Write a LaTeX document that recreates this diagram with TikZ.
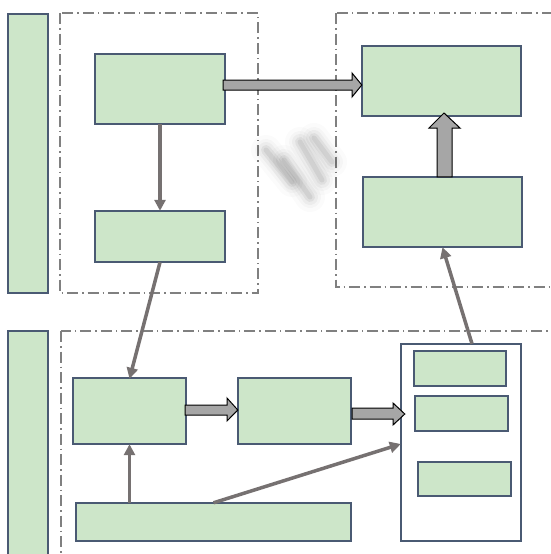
\documentclass[tikz,border=0pt]{standalone}
\usetikzlibrary{arrows.meta,calc}
\definecolor{boxfill}{HTML}{CDE6C9}
\definecolor{boxedge}{HTML}{4A5A73}
\definecolor{framegray}{HTML}{808080}
\definecolor{linkgray}{HTML}{767171}
\definecolor{fatfill}{HTML}{A6A6A6}
\tikzset{
  gbox/.style={draw=boxedge, fill=boxfill, line width=1.5pt},
  wbox/.style={draw=boxedge, fill=white, line width=1.5pt},
  frame/.style={draw=framegray, line width=1.4pt, dash pattern=on 11pt off 4pt on 1.5pt off 4pt},
  link/.style={draw=linkgray, line width=3.5pt, -{Triangle[length=11pt,width=11pt]}},
  fat/.style={draw=black, fill=fatfill, line width=1pt, line join=miter},
  smudge/.style={line cap=round, draw=black},
}
\begin{document}
\begin{tikzpicture}[x=1pt,y=-1pt]
\useasboundingbox (0,0) rectangle (551,554);
\fill[white] (0,0) rectangle (551,554);
\clip (0,0) rectangle (551,554);
% frames
\draw[frame] (60,13) rectangle (258,293);
\draw[frame] (336,13) rectangle (570,287);
\draw[frame] (61,331) rectangle (570,575);
% smudge
\foreach \w/\o in {30/0.015,22/0.025,16/0.035,10/0.05,5/0.06}{
  \draw[smudge, line width=\w pt, opacity=\o] (266,150) -- (292,182);
  \draw[smudge, line width=\w pt, opacity=\o] (284,160) -- (310,197);
  \draw[smudge, line width=\w pt, opacity=\o] (300,142) -- (322,180);
  \draw[smudge, line width=\w pt, opacity=\o] (314,138) -- (332,162);
}
% left bars
\path[gbox] (8,14) rectangle (48,293);
\node[inner sep=0, minimum width=40pt, minimum height=279pt] (bar1) at (28,153.5) {};
\path[gbox] (8,331) rectangle (48,570);
\node[inner sep=0, minimum width=40pt, minimum height=239pt] (bar2) at (28,450.5) {};
% boxes
\path[gbox] (95,54) rectangle (225,124);
\node[inner sep=0, minimum width=130pt, minimum height=70pt] (A) at (160,89) {};
\path[gbox] (95,211) rectangle (225,262);
\node[inner sep=0, minimum width=130pt, minimum height=51pt] (B) at (160,236.5) {};
\path[gbox] (362,46) rectangle (521,116);
\node[inner sep=0, minimum width=159pt, minimum height=70pt] (C) at (441.5,81) {};
\path[gbox] (363,177) rectangle (522,247);
\node[inner sep=0, minimum width=159pt, minimum height=70pt] (D) at (442.5,212) {};
\path[gbox] (73,378) rectangle (186,444);
\node[inner sep=0, minimum width=113pt, minimum height=66pt] (E) at (129.5,411) {};
\path[gbox] (238,378) rectangle (351,444);
\node[inner sep=0, minimum width=113pt, minimum height=66pt] (F) at (294.5,411) {};
\path[gbox] (76,503) rectangle (351,541);
\node[inner sep=0, minimum width=275pt, minimum height=38pt] (G) at (213.5,522) {};
\path[wbox] (401,344) rectangle (521,541);
\node[inner sep=0, minimum width=120pt, minimum height=197pt] (H) at (461,442.5) {};
\path[gbox] (414,351) rectangle (506,386);
\path[gbox] (415,396) rectangle (508,431);
\path[gbox] (418,462) rectangle (511,496);
% thin links
\draw[link] (A.south) -- (B.north);
\draw[link] (B.south) -- ($(E.north)+(0,1)$);
\draw[link] (G.north -| E.south) -- (E.south);
\draw[link] (G.north) -- (H.west |- 0,444);
\draw[link] (H.north -| 472,0) -- (D.south);
% fat arrows
\draw[fat] let \p1=($(A.east)+(-2,0)$), \p2=(C.west) in
  (\x1,80) -- (352,80) -- (352,73) -- (\x2,85) -- (352,97) -- (352,90) -- (\x1,90) -- cycle;
\draw[fat] let \p1=(D.north), \p2=(C.south) in
  (437,\y1) -- (437,128) -- (429,128) -- (444,113) -- (460,128) -- (452,128) -- (452,\y1) -- cycle;
\draw[fat] let \p1=($(E.east)+(-1,0)$), \p2=(F.west) in
  (\x1,405) -- (227,405) -- (227,398) -- (\x2,410) -- (227,421) -- (227,415) -- (\x1,415) -- cycle;
\draw[fat] let \p1=($(F.east)+(1,0)$), \p2=($(H.west)+(4,0)$) in
  (\x1,408) -- (393,408) -- (393,403) -- (\x2,414) -- (393,425) -- (393,419) -- (\x1,419) -- cycle;
\end{tikzpicture}
\end{document}
